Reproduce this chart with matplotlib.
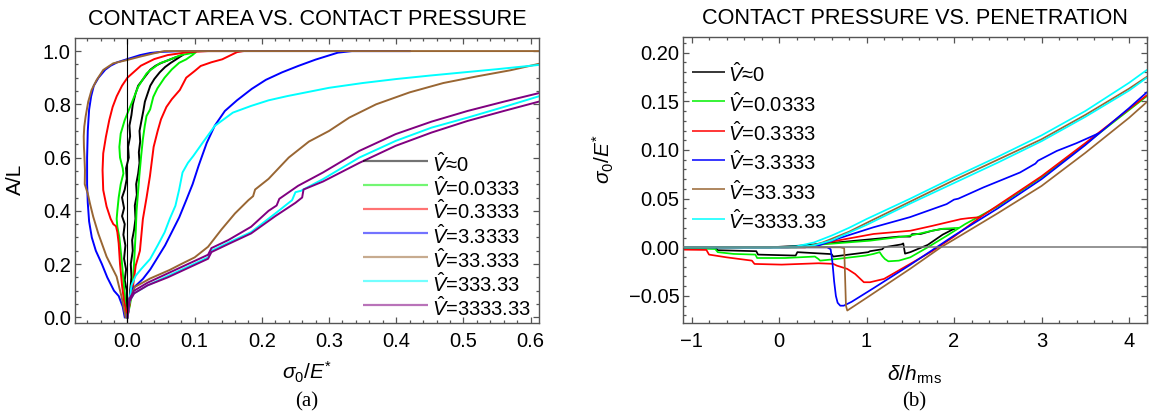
import numpy as np
import matplotlib.pyplot as plt
from matplotlib.ticker import MultipleLocator, FuncFormatter

plt.rcParams['font.family'] = ['Liberation Sans', 'DejaVu Sans']
plt.rcParams['mathtext.fontset'] = 'custom'
plt.rcParams['mathtext.rm'] = 'Liberation Sans'
plt.rcParams['mathtext.it'] = 'Liberation Sans:italic'
plt.rcParams['mathtext.bf'] = 'Liberation Sans:bold'

# ---------------- (a) contact area vs contact pressure ----------------
a_labels = [r'$\hat{V}$≈0', r'$\hat{V}$=0.0333', r'$\hat{V}$=0.3333', r'$\hat{V}$=3.3333',
            r'$\hat{V}$=33.333', r'$\hat{V}$=333.33', r'$\hat{V}$=3333.33']
a_colors = ['#000000', '#00f000', '#ff0000', '#0000ff', '#996633', '#00ffff', '#800080']

a_black_load_x = [0.000, 0.003, 0.004, 0.006, 0.005, 0.008, 0.007, 0.010, 0.012, 0.011, 0.014, 0.013, 0.016, 0.018,
                  0.017, 0.019, 0.018, 0.021, 0.024, 0.026, 0.030, 0.034, 0.040, 0.048, 0.056, 0.064, 0.072, 0.082]
a_black_load_y = [0.00, 0.05, 0.10, 0.15, 0.20, 0.25, 0.29, 0.33, 0.37, 0.42, 0.46, 0.50, 0.54, 0.58,
                  0.62, 0.66, 0.70, 0.74, 0.78, 0.81, 0.84, 0.87, 0.895, 0.92, 0.94, 0.955, 0.968, 0.985]
a_black_unload_x = [0.082, 0.070, 0.060, 0.050, 0.042, 0.034, 0.028, 0.022, 0.016, 0.012, 0.008, 0.006, 0.003, 0.004,
                    0.001, 0.002, -0.002, -0.001, -0.004, -0.008, -0.005, -0.008, -0.004, -0.006, -0.003, -0.005,
                    -0.002, -0.004, -0.001, -0.002, 0.000]
a_black_unload_y = [0.985, 0.975, 0.965, 0.955, 0.945, 0.93, 0.91, 0.89, 0.87, 0.84, 0.80, 0.76, 0.72, 0.68,
                    0.64, 0.60, 0.56, 0.52, 0.48, 0.45, 0.41, 0.38, 0.35, 0.31, 0.27, 0.22,
                    0.18, 0.14, 0.10, 0.05, 0.00]

a_green_load_x = [0.000, 0.004, 0.007, 0.0097, 0.0123, 0.0136, 0.015, 0.0177, 0.0204, 0.023, 0.0258, 0.0284,
                  0.0338, 0.0385, 0.0446, 0.0553, 0.066, 0.077, 0.0875, 0.098, 0.101]
a_green_load_y = [0.00, 0.05, 0.094, 0.194, 0.319, 0.40, 0.444, 0.531, 0.606, 0.669, 0.719, 0.756,
                  0.781, 0.828, 0.86, 0.90, 0.931, 0.956, 0.969, 0.9875, 0.995]
a_green_unload_x = [0.101, 0.08, 0.06, 0.048, 0.035, 0.0285, 0.016, 0.006, -0.004, -0.010, -0.012, -0.011, -0.007,
                    -0.006, -0.010, -0.013, -0.015, -0.016, -0.015, -0.012, -0.010, -0.008, -0.006, -0.004, -0.002]
a_green_unload_y = [0.995, 0.985, 0.965, 0.954, 0.93, 0.916, 0.866, 0.803, 0.741, 0.69, 0.64, 0.60, 0.56,
                    0.54, 0.50, 0.45, 0.40, 0.37, 0.34, 0.30, 0.25, 0.20, 0.14, 0.08, 0.00]

a_red_load_x = [0.000, 0.004, 0.008, 0.0123, 0.0186, 0.023, 0.0285, 0.0335, 0.039, 0.045, 0.050, 0.058, 0.066,
                0.078, 0.0875, 0.100, 0.109, 0.125, 0.141, 0.150, 0.163, 0.172]
a_red_load_y = [0.00, 0.06, 0.11, 0.194, 0.25, 0.369, 0.45, 0.53, 0.64, 0.70, 0.744, 0.79, 0.819,
                0.854, 0.90, 0.925, 0.944, 0.958, 0.969, 0.98, 0.996, 1.0]
a_red_unload_x = [0.172, 0.12, 0.09, 0.06, 0.04, 0.02, 0.0, -0.008, -0.016, -0.022, -0.027, -0.032, -0.036,
                  -0.037, -0.036, -0.031, -0.025, -0.021, -0.017, -0.015, -0.013, -0.011, -0.008, -0.005, 0.0]
a_red_unload_y = [1.0, 1.0, 0.996, 0.985, 0.97, 0.945, 0.90, 0.87, 0.83, 0.79, 0.741, 0.678, 0.616,
                  0.553, 0.478, 0.416, 0.37, 0.35, 0.342, 0.32, 0.278, 0.20, 0.12, 0.06, 0.0]

a_blue_load_x = [0.000, 0.003, 0.007, 0.015, 0.023, 0.034, 0.045, 0.056, 0.066, 0.077, 0.0875, 0.097, 0.106,
                 0.118, 0.130, 0.145, 0.163, 0.185, 0.206, 0.23, 0.254, 0.28, 0.313, 0.334, 0.42]
a_blue_load_y = [0.00, 0.07, 0.106, 0.125, 0.144, 0.18, 0.225, 0.27, 0.32, 0.375, 0.44, 0.50, 0.57,
                 0.655, 0.72, 0.775, 0.815, 0.858, 0.892, 0.92, 0.944, 0.968, 0.994, 1.0, 1.0]
a_blue_unload_x = [0.42, 0.08, 0.05, 0.034, 0.019, 0.0, -0.015, -0.025, -0.033, -0.043, -0.050, -0.054, -0.057,
                   -0.059, -0.060, -0.060, -0.059, -0.057, -0.053, -0.047, -0.038, -0.030, -0.024, -0.020,
                   -0.013, -0.007, -0.004]
a_blue_unload_y = [1.0, 1.0, 0.997, 0.993, 0.985, 0.97, 0.958, 0.945, 0.93, 0.90, 0.87, 0.83, 0.78,
                   0.70, 0.60, 0.50, 0.43, 0.36, 0.30, 0.25, 0.20, 0.15, 0.12, 0.10,
                   0.08, 0.04, 0.00]

a_brown_load_x = [0.000, 0.003, 0.011, 0.034, 0.063, 0.080, 0.100, 0.120, 0.140, 0.160, 0.180, 0.187, 0.190,
                  0.210, 0.240, 0.270, 0.300, 0.330, 0.370, 0.420, 0.470, 0.520, 0.570, 0.612]
a_brown_load_y = [0.00, 0.07, 0.114, 0.146, 0.178, 0.20, 0.225, 0.265, 0.33, 0.39, 0.44, 0.455, 0.48,
                  0.52, 0.60, 0.66, 0.70, 0.75, 0.80, 0.845, 0.88, 0.905, 0.928, 0.952]
a_brown_unload_x = [0.612, 0.055, 0.0385, 0.0186, -0.0012, -0.0211, -0.036, -0.0459, -0.0533, -0.0583, -0.0622,
                    -0.0642, -0.0650, -0.0647, -0.0642, -0.0632, -0.0635, -0.059, -0.0558, -0.0509, -0.0434,
                    -0.031, -0.0161, -0.0087, -0.0027]
a_brown_unload_y = [1.0, 1.0, 0.991, 0.979, 0.966, 0.954, 0.929, 0.891, 0.854, 0.81, 0.754,
                    0.716, 0.68, 0.64, 0.616, 0.553, 0.50, 0.465, 0.428, 0.378, 0.315,
                    0.228, 0.153, 0.077, 0.0]

a_cyan_up_x = [0.000, 0.003, 0.006, 0.0123, 0.020, 0.0338, 0.045, 0.0553, 0.063, 0.0714, 0.077, 0.082, 0.090,
               0.098, 0.112, 0.130, 0.157, 0.184, 0.210, 0.238, 0.300, 0.350, 0.400, 0.450, 0.500, 0.550, 0.612]
a_cyan_up_y = [0.00, 0.06, 0.12, 0.156, 0.18, 0.219, 0.27, 0.319, 0.37, 0.419, 0.48, 0.544, 0.58,
               0.606, 0.656, 0.719, 0.769, 0.794, 0.815, 0.831, 0.862, 0.88, 0.895, 0.908, 0.92, 0.932, 0.948]
a_cyan_low_x = [0.000, 0.003, 0.010, 0.030, 0.060, 0.090, 0.120, 0.125, 0.150, 0.184, 0.220, 0.245, 0.250,
                0.258, 0.291, 0.345, 0.399, 0.4525, 0.506, 0.560, 0.612]
a_cyan_low_y = [0.00, 0.06, 0.09, 0.12, 0.155, 0.19, 0.225, 0.25, 0.28, 0.32, 0.39, 0.44, 0.47,
                0.475, 0.519, 0.60, 0.6625, 0.7125, 0.75, 0.79, 0.83]

a_purple_up_x = [0.000, 0.003, 0.010, 0.030, 0.060, 0.090, 0.120, 0.125, 0.150, 0.184, 0.210, 0.222, 0.226,
                 0.254, 0.291, 0.345, 0.399, 0.4525, 0.506, 0.560, 0.612]
a_purple_up_y = [0.00, 0.07, 0.10, 0.13, 0.165, 0.20, 0.235, 0.26, 0.29, 0.34, 0.40, 0.42, 0.445,
                 0.494, 0.544, 0.625, 0.688, 0.735, 0.775, 0.81, 0.842]
a_purple_low_x = [0.000, 0.003, 0.010, 0.030, 0.060, 0.090, 0.120, 0.125, 0.150, 0.184, 0.220, 0.250, 0.260,
                  0.262, 0.291, 0.345, 0.399, 0.4525, 0.506, 0.560, 0.612]
a_purple_low_y = [0.00, 0.06, 0.09, 0.12, 0.15, 0.185, 0.22, 0.245, 0.275, 0.315, 0.38, 0.43, 0.45,
                  0.48, 0.51, 0.58, 0.644, 0.694, 0.7375, 0.775, 0.81]

# ---------------- (b) contact pressure vs penetration ----------------
b_labels = [r'$\hat{V}$≈0', r'$\hat{V}$=0.0333', r'$\hat{V}$=0.3333', r'$\hat{V}$=3.3333',
            r'$\hat{V}$=33.333', r'$\hat{V}$=3333.33']
b_colors = ['#000000', '#00f000', '#ff0000', '#0000ff', '#996633', '#00ffff']

b_black_low_x = [-1.10, -0.72, -0.70, -0.26, -0.24, 0.19, 0.21, 0.60, 0.62, 1.02, 1.04, 1.18, 1.20, 1.40,
                 1.42, 1.44, 1.50, 1.70, 1.87, 2.00]
b_black_low_y = [-0.001, -0.001, -0.003, -0.004, -0.0075, -0.0085, -0.005, -0.007, -0.0095, -0.005, -0.004,
                 -0.002, 0.0, 0.003, 0.004, -0.0065, -0.005, 0.0025, 0.013, 0.019]
b_black_up_x = [-1.10, -0.10, 0.24, 0.66, 1.08, 1.37, 1.50, 1.52, 1.62, 1.75, 1.87, 2.00]
b_black_up_y = [0.0, 0.0, 0.0017, 0.005, 0.0085, 0.011, 0.011, 0.0135, 0.0137, 0.017, 0.019, 0.019]

b_green_low_x = [-1.10, -0.73, -0.70, -0.52, -0.27, -0.25, 0.07, 0.41, 0.45, 0.47, 0.66, 0.99, 1.08, 1.15,
                 1.18, 1.21, 1.25, 1.37, 1.50, 1.70, 1.92, 2.13, 2.50, 3.00, 3.50, 4.00, 4.20]
b_green_low_y = [-0.0007, -0.0017, -0.005, -0.0068, -0.0075, -0.011, -0.011, -0.0095, -0.012, -0.0137, -0.012,
                 -0.0085, -0.0068, -0.005, -0.009, -0.012, -0.0144, -0.0137, -0.0103, 0.0, 0.012, 0.024,
                 0.042, 0.072, 0.106, 0.141, 0.155]
b_green_up_x = [-1.10, 0.20, 0.50, 1.04, 1.50, 1.75, 1.87, 2.05]
b_green_up_y = [0.0, 0.0, 0.003, 0.0068, 0.012, 0.017, 0.019, 0.020]

b_red_low_x = [-1.10, -0.83, -0.80, -0.60, -0.31, -0.28, 0.03, 0.45, 0.62, 0.66, 0.78, 0.87, 0.97, 1.04,
               1.20, 1.50, 1.75, 1.85, 2.00, 2.30, 2.50, 3.00, 3.50, 4.00, 4.20]
b_red_low_y = [-0.0024, -0.0027, -0.0075, -0.0103, -0.0137, -0.0171, -0.0178, -0.0164, -0.017, -0.0188,
               -0.0222, -0.0274, -0.0359, -0.0359, -0.0325, -0.017, -0.004, 0.002, 0.011, 0.031, 0.043,
               0.073, 0.107, 0.142, 0.156]
b_red_up_x = [-1.10, 0.30, 0.66, 1.08, 1.50, 1.75, 2.08, 2.17, 2.30]
b_red_up_y = [0.0, 0.0, 0.0068, 0.0137, 0.017, 0.022, 0.029, 0.030, 0.031]

b_blue_low_x = [-1.10, 0.10, 0.55, 0.59, 0.61, 0.63, 0.65, 0.67, 0.70, 0.74, 0.83, 1.08, 1.50, 1.80, 2.00,
                2.50, 3.00, 3.50, 4.00, 4.20]
b_blue_low_y = [0.0, 0.0, 0.0, -0.002, -0.015, -0.035, -0.05, -0.057, -0.06, -0.06, -0.056, -0.042, -0.018,
                0.0, 0.012, 0.040, 0.070, 0.105, 0.143, 0.159]
b_blue_up_x = [-1.10, 0.10, 0.449, 0.658, 1.077, 1.497, 1.916, 2.00, 2.05, 2.335, 2.755, 2.93, 2.96, 3.174,
               3.40, 3.65]
b_blue_up_y = [0.0, 0.0, 0.0017, 0.0085, 0.0205, 0.031, 0.0444, 0.049, 0.050, 0.0615, 0.0769, 0.086, 0.089,
               0.099, 0.107, 0.117]

b_brown_low_x = [-1.10, 0.0, 0.70, 0.745, 0.755, 0.765, 0.78, 1.00, 1.50, 1.85, 2.00, 2.50, 3.00, 3.50,
                 4.00, 4.20]
b_brown_low_y = [0.0, 0.0, 0.0, -0.001, -0.03, -0.06, -0.065, -0.052, -0.022, 0.0, 0.008, 0.035, 0.063,
                 0.097, 0.133, 0.149]
b_brown_up_x = [-1.10, 0.30, 0.50, 0.80, 1.00, 1.50, 2.00, 2.50, 3.00, 3.50, 4.00, 4.20]
b_brown_up_y = [0.0, 0.0, 0.005, 0.016, 0.025, 0.047, 0.069, 0.090, 0.111, 0.136, 0.163, 0.175]

b_cyan_up_x = [-1.10, 0.0, 0.2, 0.4, 0.6, 0.8, 1.0, 1.5, 2.0, 2.5, 3.0, 3.5, 4.0, 4.2]
b_cyan_up_y = [0.0, 0.0, 0.001, 0.005, 0.012, 0.020, 0.029, 0.050, 0.072, 0.093, 0.115, 0.140, 0.169, 0.182]
b_cyan_low_x = [-1.10, 0.2, 0.4, 0.6, 0.8, 1.0, 1.5, 2.0, 2.5, 3.0, 3.5, 4.0, 4.2]
b_cyan_low_y = [0.0, 0.0, 0.002, 0.007, 0.015, 0.023, 0.045, 0.066, 0.087, 0.109, 0.134, 0.161, 0.174]

FRAME = '#555555'
FS = 14.5


def minus(fmt):
    def f(v, pos):
        if abs(v) < 1e-9:
            v = 0.0
        return fmt.format(v).replace('-', '\u2212')
    return FuncFormatter(f)


def style_axes(ax):
    for sp in ax.spines.values():
        sp.set_color(FRAME)
        sp.set_linewidth(1.0)
    ax.tick_params(which='both', direction='in', top=True, right=True, color=FRAME,
                   labelsize=FS, width=0.9)
    ax.tick_params(which='major', length=4.5)
    ax.tick_params(which='minor', length=2.4)
    ax.tick_params(axis='x', pad=6.5)
    ax.tick_params(axis='y', pad=3)


def draw_key(ax, labels, colors, x0, x1, xt, ytop, dy, alpha, lw):
    # hand-placed key: short sample line followed by the label
    h = ax.get_position().height * 413
    off = 10.5 / h
    for i, (lab, c) in enumerate(zip(labels, colors)):
        y = ytop - i * dy
        ax.plot([x0, x1], [y, y], transform=ax.transAxes, color=c, alpha=alpha, lw=lw,
                solid_capstyle='butt', clip_on=False, zorder=5)
        ax.text(xt, y - off, lab, transform=ax.transAxes, va='baseline', ha='left',
                fontsize=FS, zorder=5)


fig = plt.figure(figsize=(11.55, 4.13), dpi=100)
ax1 = fig.add_axes([75 / 1155, 1 - 323.3 / 413, 464 / 1155, 285 / 413])
ax2 = fig.add_axes([682.5 / 1155, 1 - 323.3 / 413, 464 / 1155, 286 / 413])

# panel (a)
lw_a = 1.4
ax1.axvline(0, color='black', lw=0.8, zorder=2.5)
a_curves = [
    ('#000000', [(a_black_load_x, a_black_load_y), (a_black_unload_x, a_black_unload_y)]),
    ('#00f000', [(a_green_load_x, a_green_load_y), (a_green_unload_x, a_green_unload_y)]),
    ('#ff0000', [(a_red_load_x, a_red_load_y), (a_red_unload_x, a_red_unload_y)]),
    ('#0000ff', [(a_blue_load_x, a_blue_load_y), (a_blue_unload_x, a_blue_unload_y)]),
    ('#996633', [(a_brown_load_x, a_brown_load_y), (a_brown_unload_x, a_brown_unload_y)]),
    ('#00ffff', [(a_cyan_up_x, a_cyan_up_y), (a_cyan_low_x, a_cyan_low_y)]),
    ('#800080', [(a_purple_up_x, a_purple_up_y), (a_purple_low_x, a_purple_low_y)]),
]
for c, segs in a_curves:
    for xs, ys in segs:
        ax1.plot(xs, ys, color=c, lw=lw_a, zorder=2)

ax1.set_xlim(-0.078, 0.6124)
ax1.set_ylim(-0.0225, 1.048)
ax1.xaxis.set_major_locator(MultipleLocator(0.1))
ax1.xaxis.set_minor_locator(MultipleLocator(0.02))
ax1.yaxis.set_major_locator(MultipleLocator(0.2))
ax1.yaxis.set_minor_locator(MultipleLocator(0.05))
ax1.xaxis.set_major_formatter(minus('{:.1f}'))
ax1.yaxis.set_major_formatter(minus('{:.1f}'))
style_axes(ax1)
ax1.set_title('CONTACT AREA VS. CONTACT PRESSURE', fontsize=15.6, pad=9.5)
ax1.set_xlabel(r'$\sigma_0/E^{*}$', fontsize=15)
ax1.xaxis.set_label_coords(0.5, -0.171)
ax1.xaxis.label.set_va('center')
ax1.set_ylabel('A/L', fontsize=15)
ax1.yaxis.set_label_coords(-0.129, 0.505)
ax1.yaxis.label.set_va('center')
draw_key(ax1, a_labels, a_colors, 0.621, 0.761, 0.769, (323.3 - 161) / 285, 24 / 285, 0.55, 1.6)

# panel (b)
lw_b = 1.25
ax2.axhline(0, color='#777777', lw=1.1, zorder=3)
b_curves = [
    ('#000000', [(b_black_low_x, b_black_low_y), (b_black_up_x, b_black_up_y)]),
    ('#00f000', [(b_green_low_x, b_green_low_y), (b_green_up_x, b_green_up_y)]),
    ('#ff0000', [(b_red_low_x, b_red_low_y), (b_red_up_x, b_red_up_y)]),
    ('#0000ff', [(b_blue_low_x, b_blue_low_y), (b_blue_up_x, b_blue_up_y)]),
    ('#996633', [(b_brown_low_x, b_brown_low_y), (b_brown_up_x, b_brown_up_y)]),
    ('#00ffff', [(b_cyan_low_x, b_cyan_low_y), (b_cyan_up_x, b_cyan_up_y)]),
]
for c, segs in b_curves:
    for xs, ys in segs:
        ax2.plot(xs, ys, color=c, lw=lw_b, zorder=2)

ax2.set_xlim(-1.103, 4.2)
ax2.set_ylim(-0.0781, 0.2158)
ax2.xaxis.set_major_locator(MultipleLocator(1))
ax2.xaxis.set_minor_locator(MultipleLocator(0.2))
ax2.yaxis.set_major_locator(MultipleLocator(0.05))
ax2.yaxis.set_minor_locator(MultipleLocator(0.01))
ax2.xaxis.set_major_formatter(minus('{:.0f}'))
ax2.yaxis.set_major_formatter(minus('{:.2f}'))
style_axes(ax2)
ax2.tick_params(axis='y', pad=2)
ax2.set_title('CONTACT PRESSURE VS. PENETRATION', fontsize=15.6, pad=9.5)
ax2.set_xlabel(r'$\delta/h_{\rm rms}$', fontsize=15)
ax2.xaxis.set_label_coords(0.5, -0.181)
ax2.xaxis.label.set_va('center')
ax2.set_ylabel(r'$\sigma_0/E^{*}$', fontsize=15)
ax2.yaxis.set_label_coords(-0.170, 0.575)
ax2.yaxis.label.set_va('center')
draw_key(ax2, b_labels, b_colors, 0.0198, 0.091, 0.098, (323.3 - 72) / 286, 29.3 / 286, 1.0, 1.1)

fig.text(307 / 1155, 1 - 401.7 / 413, '(a)', ha='center', va='center', fontsize=15,
         family=['Liberation Serif', 'DejaVu Serif'])
fig.text(914.5 / 1155, 1 - 401.7 / 413, '(b)', ha='center', va='center', fontsize=15,
         family=['Liberation Serif', 'DejaVu Serif'])

fig.savefig('out.png', dpi=100)
